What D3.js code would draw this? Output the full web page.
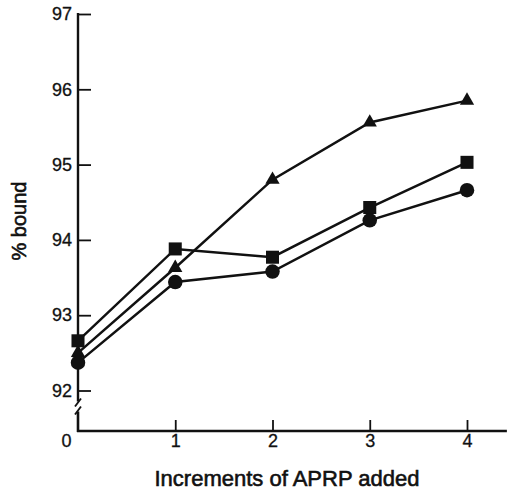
<!DOCTYPE html>
<html>
<head>
<meta charset="utf-8">
<script src="https://cdn.jsdelivr.net/npm/d3@7"></script>
<style>
    body { margin: 0; background: #fff; }
    text { font-family: "Liberation Sans", Arial, Helvetica, sans-serif; fill: #111; }
</style>
</head>
<body>
<svg id="chart"></svg>
<script>
// Data
const increments = [0, 1, 2, 3, 4];
const triangleSeries = [92.50, 93.63, 94.80, 95.56, 95.85];
const squareSeries = [92.66, 93.88, 93.77, 94.43, 95.03];
const circleSeries = [92.37, 93.44, 93.58, 94.26, 94.66];
const yTickValues = [92, 93, 94, 95, 96, 97];
const xTickValues = [0, 1, 2, 3, 4];

(function() {

    const w = 510;
    const h = 490;

    const svg = d3.select('#chart')
        .attr('width', w)
        .attr('height', h);

    // Scales
    const scaleX = d3.scaleLinear().domain([0, 4]).range([78, 467]);
    const scaleY = d3.scaleLinear().domain([92, 97]).range([390.5, 14]);
    const axisY0 = 431;   // where the x axis sits (below the break)
    const x0 = scaleX(0);

    // X Axis
    const xAxis = d3.axisBottom(scaleX)
        .tickValues(xTickValues)
        .tickFormat(d3.format('d'))
        .tickSizeInner(-11)
        .tickSizeOuter(0)
        .tickPadding(3);

    const gx = svg.append('g')
        .attr('transform', `translate(0, ${axisY0})`)
        .call(xAxis);
    gx.select('.domain').remove();
    gx.selectAll('.tick line').attr('stroke', '#111').attr('stroke-width', 1.8);
    gx.selectAll('.tick text')
        .style('font-size', '18px')
        .attr('fill', '#111')
        .attr('stroke', '#111')
        .attr('stroke-width', 0.3);
    // zero sits left of the corner, no tick
    gx.selectAll('.tick').filter(d => d === 0).select('line').remove();
    gx.selectAll('.tick').filter(d => d === 0).select('text').attr('x', -12);

    gx.append('line')
        .attr('x1', x0 - 1)
        .attr('x2', scaleX(4.41))
        .attr('stroke', '#111')
        .attr('stroke-width', 2.6);

    // Y Axis
    const yAxis = d3.axisLeft(scaleY)
        .tickValues(yTickValues)
        .tickFormat(d3.format('d'))
        .tickSizeInner(-13)
        .tickSizeOuter(0)
        .tickPadding(6);

    const gy = svg.append('g')
        .attr('transform', `translate(${x0}, 0)`)
        .call(yAxis);
    gy.select('.domain').remove();
    gy.selectAll('.tick line').attr('stroke', '#111').attr('stroke-width', 1.8);
    gy.selectAll('.tick text')
        .style('font-size', '18px')
        .attr('fill', '#111')
        .attr('stroke', '#111')
        .attr('stroke-width', 0.3);

    // axis line with a break below 92
    const brk = scaleY(92);
    gy.append('line')
        .attr('y1', scaleY(97) - 1)
        .attr('y2', brk + 11)
        .attr('stroke', '#111')
        .attr('stroke-width', 2.4);
    gy.append('line')
        .attr('y1', brk + 21)
        .attr('y2', axisY0 + 1)
        .attr('stroke', '#111')
        .attr('stroke-width', 2.6);
    [0, 8].forEach(off => {
        gy.append('line')
            .attr('x1', -3).attr('y1', brk + 16 + off)
            .attr('x2', 3).attr('y2', brk + 8 + off)
            .attr('stroke', '#111')
            .attr('stroke-width', 1.8);
    });

    // Series
    const series = [
        { values: triangleSeries, symbol: d3.symbolTriangle, size: 88 },
        { values: squareSeries, symbol: d3.symbolSquare, size: 170 },
        { values: circleSeries, symbol: d3.symbolCircle, size: 165 }
    ];

    const line = d3.line()
        .x((d, i) => scaleX(increments[i]))
        .y(d => scaleY(d));

    series.forEach(s => {

        svg.append('path')
            .datum(s.values)
            .attr('d', line)
            .attr('fill', 'none')
            .attr('stroke', '#111')
            .attr('stroke-width', 2.5);

        svg.selectAll(null)
            .data(s.values)
            .enter()
            .append('path')
            .attr('d', d3.symbol().type(s.symbol).size(s.size))
            .attr('transform', (d, i) => `translate(${scaleX(increments[i])}, ${scaleY(d)})`)
            .attr('fill', '#111');

    });

    // Titles
    svg.append('text')
        .attr('x', 287)
        .attr('y', 486)
        .attr('text-anchor', 'middle')
        .style('font-size', '22px')
        .attr('stroke', '#111')
        .attr('stroke-width', 0.6)
        .text('Increments of APRP added');

    svg.append('text')
        .attr('transform', 'translate(26, 221) rotate(-90)')
        .attr('text-anchor', 'middle')
        .style('font-size', '20px')
        .attr('stroke', '#111')
        .attr('stroke-width', 0.6)
        .text('% bound');

})();
</script>
</body>
</html>
